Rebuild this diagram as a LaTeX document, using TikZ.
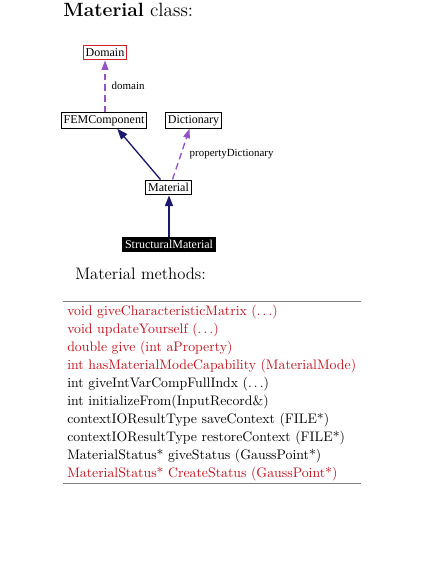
\documentclass[tikz,border=0pt]{standalone}
\usepackage{fontspec}
\newfontfamily\dotfont{Liberation Serif}
\usetikzlibrary{arrows.meta}
\definecolor{methred}{RGB}{195,15,25}
\definecolor{domred}{RGB}{210,30,40}
\definecolor{relpurple}{RGB}{150,80,200}
\definecolor{inhnavy}{RGB}{25,25,112}
\tikzset{
  cls/.style={draw=black, line width=0.9pt, fill=white, inner sep=1.8pt, minimum height=11pt, font=\dotfont\fontsize{9}{10}\selectfont},
  relarrow/.style={draw=relpurple, line width=1pt, dash pattern=on 5pt off 3pt, -{Triangle[length=7pt,width=5pt]}},
  inharrow/.style={draw=inhnavy, line width=1pt, -{Triangle[length=8pt,width=6pt]}},
  rellabel/.style={font=\dotfont\fontsize{8.2}{9}\selectfont, anchor=west},
  meth/.style={anchor=base west, inner sep=0pt, font=\fontsize{10.35}{12}\selectfont},
  sep/.style={draw=gray, line width=0.5pt}
}
\begin{document}
\begin{tikzpicture}[x=0.75pt,y=-0.75pt]
\useasboundingbox (0,0) rectangle (446,577);
\node[anchor=base west, inner sep=0pt, font=\fontsize{14.4}{16}\selectfont] (title) at (63,17) {\textbf{Material} class:};

\node[cls, draw=domred] (domain) at (105,52.5) {Domain};
\node[cls] (fem) at (104,120.5) {FEMComponent};
\node[cls] (dict) at (193.5,120.5) {Dictionary};
\node[cls] (mat) at (168.5,187.5) {Material};
\node[cls, fill=black, draw=black, text=white] (smat) at (169,244.5) {StructuralMaterial};

\draw[relarrow] (fem.north -| domain.south) -- (domain.south);
\node[rellabel] (lbdom) at (107,86) {domain};
\draw[relarrow] ([xshift=3pt]mat.north) -- ([xshift=-3pt]dict.south);
\node[rellabel] (lbdict) at (185,154) {propertyDictionary};
\draw[inharrow] ([xshift=-6pt]mat.north) -- ([xshift=10pt]fem.south);
\draw[inharrow] (smat.north) -- (smat.north |- mat.south);

\node[anchor=base west, inner sep=0pt, font=\fontsize{12.5}{14}\selectfont] (mtitle) at (75,279) {Material methods:};
\coordinate (s1a) at (63,301);
\coordinate (s1b) at (361,301);
\draw[sep] (s1a) -- (s1b);
\node[meth, text=methred] (m1) at (67,315) {void giveCharacteristicMatrix ($\ldots$)};
\node[meth, text=methred] (m2) at (67,333) {void updateYourself ($\ldots$)};
\node[meth, text=methred] (m3) at (67,351) {double give (int aProperty)};
\node[meth, text=methred] (m4) at (67,369) {int hasMaterialModeCapability (MaterialMode)};
\node[meth] (m5) at (67,387) {int giveIntVarCompFullIndx ($\ldots$)};
\node[meth] (m6) at (67,405) {int initializeFrom(InputRecord\&)};
\node[meth] (m7) at (67,423) {contextIOResultType saveContext (FILE*)};
\node[meth] (m8) at (67,441) {contextIOResultType restoreContext (FILE*)};
\node[meth] (m9) at (67,459) {MaterialStatus* giveStatus (GaussPoint*)};
\node[meth, text=methred] (m10) at (67,477) {MaterialStatus* CreateStatus (GaussPoint*)};
\coordinate (s2a) at (63,483);
\coordinate (s2b) at (361,483);
\draw[sep] (s2a) -- (s2b);
\end{tikzpicture}
\end{document}
